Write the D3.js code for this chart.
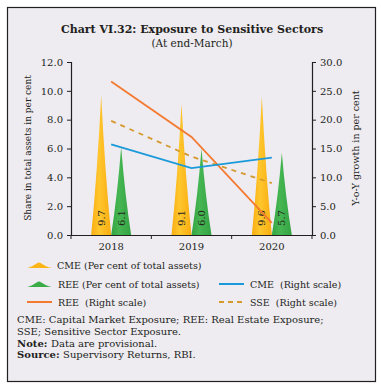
<!DOCTYPE html>
<html>
<head>
<meta charset="utf-8">
<script src="https://cdn.jsdelivr.net/npm/d3@7"></script>
<style>
  body { margin: 0; background: #fff; }
  svg text { font-family: "DejaVu Serif", serif; fill: #231f20; }
</style>
</head>
<body>
<svg></svg>
<script>
var years = ["2018", "2019", "2020"]
var cmeShare = [9.7, 9.1, 9.6]
var reeShare = [6.1, 6.0, 5.7]
var cmeGrowth = [15.7, 11.6, 13.4]
var reeGrowth = [26.6, 17.0, 2.1]
var sseGrowth = [19.8, 13.6, 9.0]
var leftTicks = [0, 2, 4, 6, 8, 10, 12]
var rightTicks = [0, 5, 10, 15, 20, 25, 30]

var screen = {width: 381, height: 384}
var plot = {left: 71, right: 312, top: 62, bottom: 235}

var col = {cme: "#fdb515", ree: "#3aab47", blue: "#1a9ad9", orange: "#f47a30", sse: "#d49a2c"}

var svg = d3.select("svg")
    .attr("width", screen.width)
    .attr("height", screen.height)

// panel
svg.append("rect")
    .attr("x", 7.5).attr("y", 7.5)
    .attr("width", 368).attr("height", 374)
    .attr("fill", "#eeebf1")
    .attr("stroke", "#231f20")
    .attr("stroke-width", 1.2)

// gradients for the spikes
var defs = svg.append("defs")
var addGrad = function(id, dark, light)
{
    var g = defs.append("linearGradient").attr("id", id)
        .attr("x1", "0%").attr("x2", "100%")
    g.append("stop").attr("offset", "0%").attr("stop-color", dark)
    g.append("stop").attr("offset", "40%").attr("stop-color", light)
    g.append("stop").attr("offset", "100%").attr("stop-color", dark)
}
addGrad("gCme", "#f9ad10", "#ffc62e")
addGrad("gRee", "#35a444", "#45b652")

// title
svg.append("text")
    .attr("x", 192).attr("y", 33)
    .attr("text-anchor", "middle")
    .style("font-size", "11px").style("font-weight", "bold")
    .text("Chart VI.32: Exposure to Sensitive Sectors")
svg.append("text")
    .attr("x", 192).attr("y", 47)
    .attr("text-anchor", "middle")
    .style("font-size", "10.5px")
    .text("(At end-March)")

var xScale = d3.scaleBand()
    .domain(years)
    .range([plot.left, plot.right])

var yLeft = d3.scaleLinear()
    .domain([0, 12])
    .range([plot.bottom, plot.top])

var yRight = d3.scaleLinear()
    .domain([0, 30])
    .range([plot.bottom, plot.top])

// axes
var xAxis = d3.axisBottom(xScale).tickSize(0).tickPadding(8)
var gx = svg.append("g")
    .attr("transform", "translate(0," + plot.bottom + ")")
    .call(xAxis)
gx.select(".domain").attr("stroke", "#231f20").attr("stroke-width", 1.2)
gx.selectAll("text").style("font-size", "10px").style("font-family", "DejaVu Serif")
// tick marks between categories
var sepX = [plot.left, xScale("2019"), xScale("2020"), plot.right]
svg.selectAll(".sep")
    .data(sepX)
    .enter()
    .append("line")
    .attr("x1", function(d){return d}).attr("x2", function(d){return d})
    .attr("y1", plot.bottom).attr("y2", plot.bottom + 4)
    .attr("stroke", "#231f20")

var yAxisL = d3.axisLeft(yLeft).tickValues(leftTicks).tickFormat(d3.format(".1f")).tickSize(4).tickPadding(4)
var gl = svg.append("g")
    .attr("transform", "translate(" + plot.left + ",0)")
    .call(yAxisL)
var yAxisR = d3.axisRight(yRight).tickValues(rightTicks).tickFormat(d3.format(".1f")).tickSize(4).tickPadding(4)
var gr = svg.append("g")
    .attr("transform", "translate(" + plot.right + ",0)")
    .call(yAxisR)
;[gl, gr].forEach(function(g)
{
    g.select(".domain").attr("stroke", "#231f20").attr("stroke-width", 1.2)
    g.selectAll("line").attr("stroke", "#231f20")
    g.selectAll("text").style("font-size", "10px").style("font-family", "DejaVu Serif")
})

svg.append("text")
    .attr("transform", "translate(31,148) rotate(-90)")
    .attr("text-anchor", "middle")
    .style("font-size", "9px")
    .text("Share in total assets in per cent")
svg.append("text")
    .attr("transform", "translate(359,148) rotate(-90)")
    .attr("text-anchor", "middle")
    .style("font-size", "9.5px")
    .text("Y-o-Y growth in per cent")

// spikes
var spike = function(x0, x1, yTop)
{
    var xm = (x0 + x1) / 2
    var y0 = plot.bottom
    var h = y0 - yTop
    return "M" + x0 + "," + y0 +
        " Q" + (x0 + (xm - x0) * 0.62) + "," + (y0 - h * 0.45) + " " + xm + "," + yTop +
        " Q" + (x1 - (x1 - xm) * 0.62) + "," + (y0 - h * 0.45) + " " + x1 + "," + y0 + " Z"
}
var bw = xScale.bandwidth()
var drawSpikes = function(values, offset, fill, cls)
{
    svg.selectAll("." + cls)
        .data(values)
        .enter()
        .append("path")
        .attr("class", cls)
        .attr("d", function(d, i)
        {
            var c = xScale(years[i]) + bw / 2
            return spike(c + offset, c + offset + 20, yLeft(d))
        })
        .attr("fill", fill)
    svg.selectAll("." + cls + "lab")
        .data(values)
        .enter()
        .append("text")
        .attr("transform", function(d, i)
        {
            var c = xScale(years[i]) + bw / 2 + offset + 10
            return "translate(" + (c + 3.5) + "," + (plot.bottom - 17) + ") rotate(-90)"
        })
        .attr("text-anchor", "middle")
        .style("font-size", "10px")
        .text(function(d){return d.toFixed(1)})
}
drawSpikes(cmeShare, -20, "url(#gCme)", "cme")
drawSpikes(reeShare, 0, "url(#gRee)", "ree")

// lines
var drawline = function(values, color, dash)
{
    var lineGenerator = d3.line()
        .x(function(d, i){return xScale(years[i]) + bw / 2})
        .y(function(d){return yRight(d)})
    svg.append("path")
        .datum(values)
        .attr("d", lineGenerator)
        .attr("fill", "none")
        .attr("stroke", color)
        .attr("stroke-width", 1.8)
        .attr("stroke-dasharray", dash ? "5,5" : null)
}
drawline(reeGrowth, col.orange, false)
drawline(sseGrowth, col.sse, true)
drawline(cmeGrowth, col.blue, false)

// legend
var mound = function(x, y, fill)
{
    svg.append("path")
        .attr("d", "M" + x + "," + y + " C" + (x + 6) + "," + (y - 1) + " " + (x + 9) + "," + (y - 5) + " " + (x + 12) + "," + (y - 5.5) +
            " C" + (x + 15) + "," + (y - 5) + " " + (x + 18) + "," + (y - 1) + " " + (x + 25) + "," + y + " Z")
        .attr("fill", fill)
}
var legendText = function(x, y, t)
{
    svg.append("text").attr("x", x).attr("y", y)
        .style("font-size", "9.5px")
        .style("white-space", "pre")
        .attr("xml:space", "preserve")
        .text(t)
}
var legendLine = function(x, y, color, dash)
{
    svg.append("line")
        .attr("x1", x).attr("x2", x + 25)
        .attr("y1", y).attr("y2", y)
        .attr("stroke", color).attr("stroke-width", 2)
        .attr("stroke-dasharray", dash ? "5,4" : null)
}
mound(27, 268, col.cme)
legendText(57, 269, "CME (Per cent of total assets)")
mound(27, 287, col.ree)
legendText(58, 288, "REE (Per cent of total assets)")
legendLine(219, 284, col.blue, false)
legendText(250, 288, "CME  (Right scale)")
legendLine(27, 302, col.orange, false)
legendText(58, 306, "REE  (Right scale)")
legendLine(219, 302, col.sse, true)
legendText(250, 306, "SSE  (Right scale)")

// footer
var notes = [
    {b: "", t: "CME: Capital Market Exposure; REE: Real Estate Exposure;"},
    {b: "", t: "SSE; Sensitive Sector Exposure."},
    {b: "Note: ", t: "Data are provisional."},
    {b: "Source: ", t: "Supervisory Returns, RBI."}
]
notes.forEach(function(n, i)
{
    var t = svg.append("text")
        .attr("x", 17).attr("y", 323 + i * 11.8)
        .style("font-size", "10px")
    if (n.b) t.append("tspan").style("font-weight", "bold").text(n.b)
    t.append("tspan").text(n.t)
})
</script>
</body>
</html>
